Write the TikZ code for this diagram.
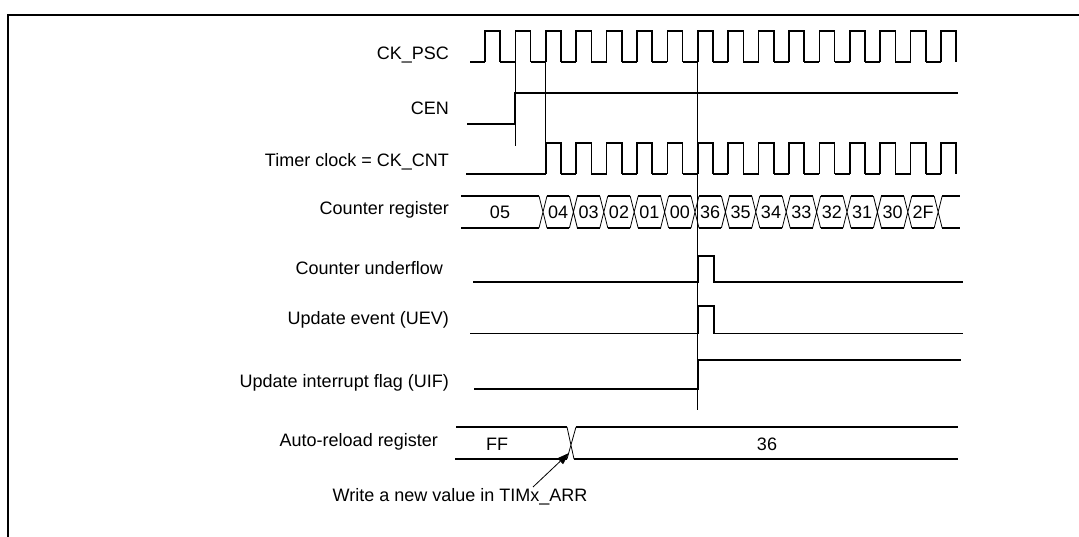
\documentclass[tikz,border=0pt]{standalone}
\usepackage{fontspec}
\setmainfont{Liberation Sans}
\usetikzlibrary{arrows.meta}

\begin{document}
\begin{tikzpicture}[x=1pt,y=-1pt,
    wave/.style={line width=1.6pt},
    guide/.style={line width=0.8pt},
    lbl/.style={anchor=east, font=\fontsize{18}{20}\selectfont, inner sep=0pt},
    val/.style={font=\fontsize{18}{20}\selectfont, inner sep=0pt}]
        \useasboundingbox (0,0) rectangle (1079,537);
        %Frame
        \draw [line width=1.6pt] (8,537) -- (8,15) -- (1079,15);

        %Labels
        \node [lbl] (lpsc) at (449,55)  {CK\_PSC};
        \node [lbl] (lcen) at (449,108) {CEN};
        \node [lbl] (lcnt) at (449,162) {Timer clock = CK\_CNT};
        \node [lbl] (lreg) at (449,210) {Counter register};
        \node [lbl] (luf)  at (443,268) {Counter underflow};
        \node [lbl] (luev) at (449,320) {Update event (UEV)};
        \node [lbl] (luif) at (449,383) {Update interrupt flag (UIF)};
        \node [lbl] (larr) at (438,442) {Auto-reload register};

        %Guides
        \draw [guide] (515,62) -- (515,146);
        \draw [guide] (545.8,62) -- (545.8,143);
        \draw [guide] (697.8,62) -- (697.8,410);

        %CK_PSC
        \draw [wave] (470,62) -- (485,62);
        \foreach \k in {0,...,15} {
          \pgfmathsetmacro{\r}{485+30.4*\k}
          \draw [wave] (\r,62) -- (\r,31) -- (\r+15.2,31) -- (\r+15.2,62);
          \ifnum\k<15 \draw [wave] (\r+15.2,62) -- (\r+30.4,62); \fi
        }
        %CEN
        \draw [wave] (467,124) -- (515,124) -- (515,93) -- (958,93);
        %CK_CNT
        \draw [wave] (466,174) -- (545.8,174);
        \foreach \k in {0,...,13} {
          \pgfmathsetmacro{\r}{545.8+30.4*\k}
          \draw [wave] (\r,174) -- (\r,143) -- (\r+15.2,143) -- (\r+15.2,174);
          \ifnum\k<13 \draw [wave] (\r+15.2,174) -- (\r+30.4,174); \fi
        }
        %Counter register
        \draw [wave] (461,196) -- (539,196) (461,228) -- (539,228);
        \node [val] (v05) at (500,212) {05};
        \foreach \k/\v in {0/04,1/03,2/02,3/01,4/00,5/36,6/35,7/34,8/33,9/32,10/31,11/30,12/2F,13/} {
          \pgfmathsetmacro{\c}{543+30.4*\k}
          \draw [guide] (\c-4,196) -- (\c+4,228) (\c-4,228) -- (\c+4,196);
          \ifnum\k<13
            \draw [wave] (\c+4,196) -- (\c+26.4,196) (\c+4,228) -- (\c+26.4,228);
            \node [val] at (\c+15.2,212) {\v};
          \else
            \draw [wave] (\c+4,196) -- (960,196) (\c+4,228) -- (960,228);
          \fi
        }
        %Counter underflow
        \draw [wave] (473,282) -- (697.8,282) -- (697.8,256) -- (714,256) -- (714,282) -- (963,282);
        %Update event
        \draw [wave] (470,333.5) -- (697.8,333.5) -- (697.8,306) -- (714,306) -- (714,333.5) -- (963,333.5);
        %UIF
        \draw [wave] (474,389) -- (697.8,389) -- (697.8,360) -- (961,360);
        %Auto-reload register
        \draw [wave] (456,427) -- (567,427) (455,459) -- (567,459);
        \draw [guide] (567,427) -- (574,459) (576,427) -- (567,459);
        \draw [wave] (576,427) -- (958,427) (574,459) -- (958,459);
        \node [val] (vff) at (497,444) {FF};
        \node [val] (v36) at (767,444) {36};
        %Note
        \node [lbl, anchor=center] (note) at (460,497) {Write a new value in TIMx\_ARR};
        \coordinate (wr) at (569,453);
        \draw [guide, -{Triangle[length=12pt,width=8pt]}] (533,487) -- (wr);
      \end{tikzpicture}
\end{document}
